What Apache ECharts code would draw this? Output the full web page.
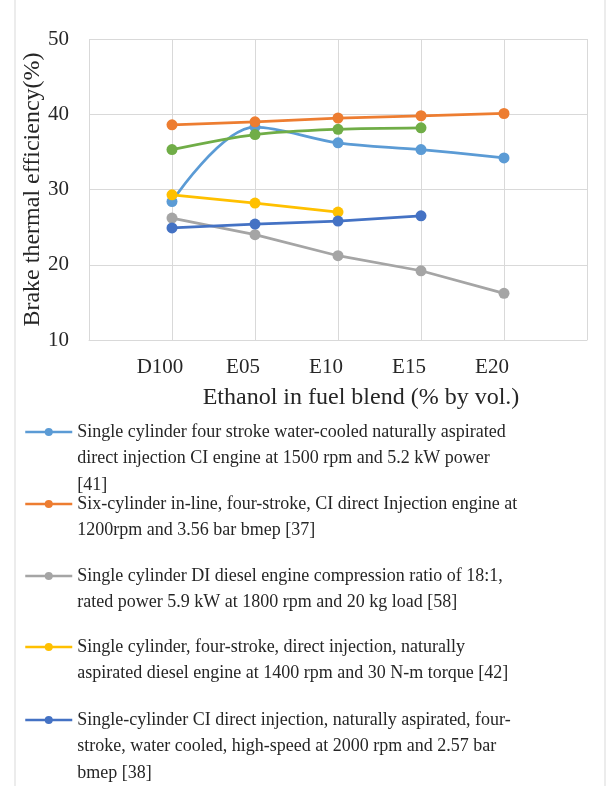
<!DOCTYPE html>
<html>
<head>
<meta charset="utf-8">
<script src="https://cdn.jsdelivr.net/npm/echarts@6/dist/echarts.min.js"></script>
<style>
html,body{margin:0;padding:0;background:#fff;}
#chart{width:612px;height:786px;}
</style>
</head>
<body>
<div id="chart"></div>
<script>
// categories (blank slots at both ends, as in the source sheet)
var categories = ['', 'D100', 'E05', 'E10', 'E15', 'E20', ''];
var yTicks = [10, 20, 30, 40, 50];

var names = [
	'Single cylinder four stroke water-cooled naturally aspirated\ndirect injection CI engine at 1500 rpm and 5.2 kW power\n[41]',
	'Six-cylinder in-line, four-stroke, CI direct Injection engine at\n1200rpm and 3.56 bar bmep [37]',
	'Single cylinder DI diesel engine compression ratio of 18:1,\nrated power 5.9 kW at 1800 rpm and 20 kg load [58]',
	'Single cylinder, four-stroke, direct injection, naturally\naspirated diesel engine at 1400 rpm and 30 N-m torque [42]',
	'Single-cylinder CI direct injection, naturally aspirated, four-\nstroke, water cooled, high-speed at 2000 rpm and 2.57 bar\nbmep [38]',
	'Series 6'
];
var colors = ['#5B9BD5', '#ED7D31', '#A5A5A5', '#FFC000', '#4472C4', '#70AD47'];

var s1 = [null, 28.4, 38.3, 36.2, 35.3, 34.2, null];
var s2 = [null, 38.6, 39.0, 39.5, 39.8, 40.1, null];
var s3 = [null, 26.2, 24.0, 21.2, 19.2, 16.2, null];
var s4 = [null, 29.3, 28.2, 27.0, null, null, null];
var s5 = [null, 24.9, 25.4, 25.8, 26.5, null, null];
var s6 = [null, 35.3, 37.3, 38.0, 38.2, null, null];
var seriesData = [s1, s2, s3, s4, s5, s6];
var smoothFlags = [0.35, false, false, false, false, 0.3];

// legend icon centre (first text line) for each of the first five entries
var legendY = [432, 504, 576, 647, 720];

var font = '"Liberation Serif", "Times New Roman", serif';
var textColor = '#262626';
var gridColor = '#d9d9d9';
var LH = 26.5;

var chart = echarts.init(document.getElementById('chart'), null, {renderer: 'canvas'});

var series = [];
for (var i = 0; i < seriesData.length; i++) {
	series.push({
		name: names[i],
		type: 'line',
		data: seriesData[i],
		smooth: smoothFlags[i],
		symbol: 'circle',
		symbolSize: 11,
		showSymbol: true,
		connectNulls: false,
		lineStyle: {width: 2.75, color: colors[i]},
		itemStyle: {color: colors[i]},
		emphasis: {disabled: true},
		animation: false
	});
}

// one legend per entry so the icon sits on the first text line
var legends = [];
for (var j = 0; j < 5; j++) {
	var n = names[j].split('\n').length;
	legends.push({
		orient: 'vertical',
		left: 19,
		top: legendY[j] - 5 - (2 * n - 1) * LH / 2,
		data: [names[j]],
		itemWidth: 47,
		itemHeight: 10,
		selectedMode: false,
		lineStyle: {width: 2.5},
		formatter: (function (k) {
			return function (name) {
				return new Array(k).join('\n') + name;
			};
		})(n),
		textStyle: {
			fontFamily: font,
			fontSize: 18,
			color: textColor,
			lineHeight: LH
		}
	});
}

var option = {
	backgroundColor: '#fff',
	color: colors,
	animation: false,
	graphic: [{
		type: 'rect',
		shape: {x: 15, y: -5, width: 590, height: 800},
		style: {fill: 'none', stroke: gridColor, lineWidth: 1},
		silent: true
	}],
	legend: legends,
	grid: {left: 89, right: 25, top: 39, bottom: 446, containLabel: false},
	xAxis: {
		type: 'category',
		data: categories,
		boundaryGap: false,
		name: 'Ethanol in fuel blend (% by vol.)',
		nameLocation: 'middle',
		nameGap: 46,
		nameMoveOverlap: false,
		nameTextStyle: {fontFamily: font, fontSize: 24, color: textColor, padding: [0, 0, 0, 46]},
		axisLine: {lineStyle: {color: gridColor, width: 1}},
		axisTick: {show: false},
		axisLabel: {interval: 0, margin: 17, fontFamily: font, fontSize: 21, color: textColor, padding: [0, 24, 0, 0]},
		splitLine: {show: true, interval: 0, lineStyle: {color: gridColor, width: 1}}
	},
	yAxis: {
		type: 'value',
		min: yTicks[0],
		max: yTicks[yTicks.length - 1],
		interval: 10,
		name: 'Brake thermal efficiency(%)',
		nameLocation: 'middle',
		nameGap: 44,
		nameMoveOverlap: false,
		nameTextStyle: {fontFamily: font, fontSize: 24, color: textColor},
		axisLine: {show: false},
		axisTick: {show: false},
		axisLabel: {margin: 20, fontFamily: font, fontSize: 21, color: textColor},
		splitLine: {show: true, lineStyle: {color: gridColor, width: 1}}
	},
	series: series
};

chart.setOption(option);
</script>
</body>
</html>
